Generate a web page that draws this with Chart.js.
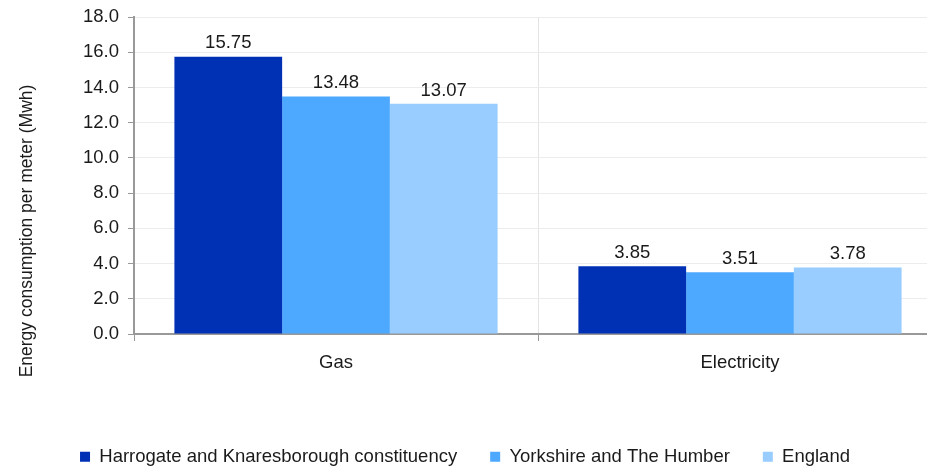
<!DOCTYPE html>
<html><head><meta charset="utf-8">
<script src="https://cdn.jsdelivr.net/npm/chart.js@4/dist/chart.umd.min.js"></script>
<style>html,body{margin:0;padding:0;background:#fff;overflow:hidden;width:927px;height:468px}
#wrap{position:relative;width:927px;height:468px;overflow:hidden}</style>
</head><body><div id="wrap"><canvas id="c" width="945" height="476"></canvas></div>
<script>
const categories = ["Gas", "Electricity"];
const seriesNames = ["Harrogate and Knaresborough constituency", "Yorkshire and The Humber", "England"];
const harrogate = [15.75, 3.85];
const yorkshire = [13.48, 3.51];
const england = [13.07, 3.78];
const yTicks = [0, 2, 4, 6, 8, 10, 12, 14, 16, 18];
const yTitle = "Energy consumption per meter (Mwh)";
const colors = ["#0030B4", "#4DA8FF", "#99CCFF"];
const FONT = "'Liberation Sans', Arial, sans-serif";
const FS = 18.5;

const labelPlugin = {
  id: 'vals',
  afterDatasetsDraw(chart) {
    const ctx = chart.ctx;
    ctx.save();
    ctx.font = FS + "px " + FONT;
    ctx.fillStyle = "#1a1a1a";
    ctx.textAlign = "center";
    ctx.textBaseline = "bottom";
    chart.data.datasets.forEach((ds, i) => {
      chart.getDatasetMeta(i).data.forEach((bar, j) => {
        ctx.fillText(ds.data[j].toFixed(2), bar.x, bar.y - 4);
      });
    });
    ctx.restore();
  }
};
const titlePlugin = {
  id: 'ytitle',
  afterDraw(chart) {
    const ctx = chart.ctx;
    ctx.save();
    ctx.font = "17.5px " + FONT;
    ctx.fillStyle = "#1a1a1a";
    ctx.textAlign = "center";
    ctx.textBaseline = "middle";
    ctx.translate(27, 231);
    ctx.rotate(-Math.PI / 2);
    ctx.fillText(yTitle, 0, 0);
    ctx.restore();
  }
};
const legendShift = {
  id: 'legendShift',
  afterLayout(chart) {
    if (chart.legend) { chart.legend.left -= 12; }
  }
};

new Chart(document.getElementById('c'), {
  type: 'bar',
  data: {
    labels: categories,
    datasets: [
      {label: seriesNames[0], data: harrogate, backgroundColor: colors[0]},
      {label: seriesNames[1], data: yorkshire, backgroundColor: colors[1]},
      {label: seriesNames[2], data: england, backgroundColor: colors[2]}
    ]
  },
  options: {
    responsive: false,
    animation: false,
    devicePixelRatio: 1,
    layout: {padding: {top: 17, right: 3, left: 0, bottom: 0}},
    datasets: {bar: {categoryPercentage: 0.8, barPercentage: 1.0}},
    plugins: {
      tooltip: {enabled: false},
      legend: {
        position: 'bottom',
        labels: {
          font: {family: FONT, size: FS},
          color: '#1a1a1a',
          boxWidth: 10, boxHeight: 10,
          padding: 33
        }
      }
    },
    scales: {
      x: {
        grid: {color: '#e4e4e4', tickColor: '#999', tickLength: 7, offset: true},
        border: {color: '#999', width: 2},
        ticks: {font: {family: FONT, size: FS}, color: '#1a1a1a', padding: 11},
        afterFit(s) { s.height = 80.5; s.paddingLeft = 0; s.paddingRight = 0; }
      },
      y: {
        min: 0, max: 18,
        afterBuildTicks(s) { s.ticks = yTicks.map(v => ({value: v})); },
        grid: {color: '#ececec', tickColor: '#999', tickLength: 6},
        border: {color: '#999', width: 2},
        ticks: {font: {family: FONT, size: FS}, color: '#1a1a1a', padding: 9,
          callback: v => Number(v).toFixed(1)},
        afterFit(s) { s.width = 134; s.paddingTop = 0; s.paddingBottom = 0; }
      }
    }
  },
  plugins: [labelPlugin, titlePlugin, legendShift]
});
</script>
</body></html>
